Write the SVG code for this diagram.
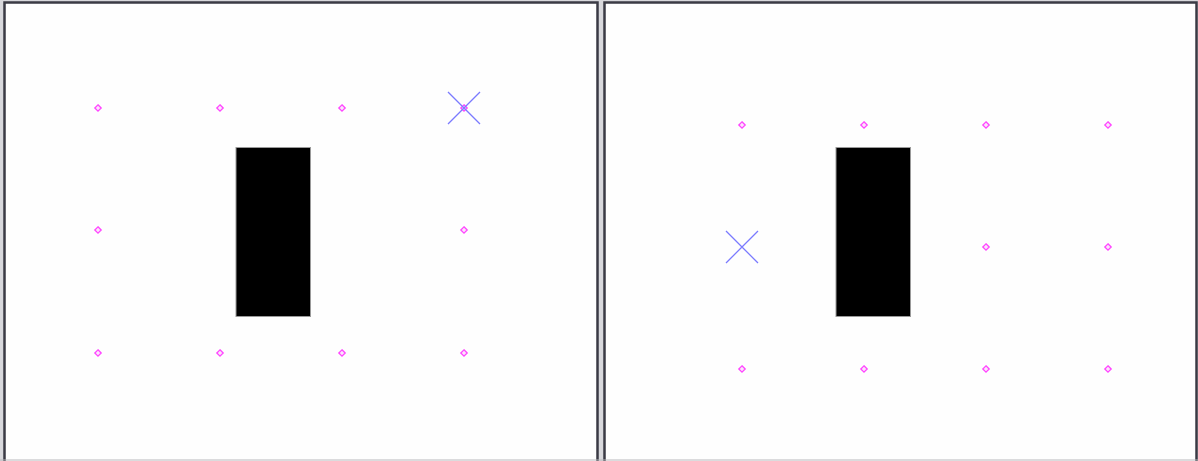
<svg xmlns="http://www.w3.org/2000/svg" width="1198" height="461" viewBox="0 0 1198 461">
<defs>
<style>
.panel{fill:#fefefe;stroke:#3a3a44;stroke-width:2.5}
.obs{fill:#000;stroke:#9a9a9a;stroke-width:1}
.pt{fill:#fbe6fb;stroke:#ff44ff;stroke-width:1.3}
.x{stroke:#7a7aff;stroke-width:1.3}
</style>
<symbol id="d" overflow="visible"><path class="pt" d="M0,-3.2 L3.2,0 L0,3.2 L-3.2,0 Z"/></symbol>
</defs>
<rect width="1198" height="461" fill="#d8d8dc"/>
<g id="left-panel">
<rect class="panel" x="4.5" y="2.5" width="593" height="461"/>
<rect id="obstacle-left" class="obs" x="236" y="147.5" width="74.5" height="169"/>
<g id="points-left">
<use href="#d" x="98" y="108"/><use href="#d" x="220" y="108"/><use href="#d" x="342" y="108"/><use href="#d" x="464" y="108"/>
<use href="#d" x="98" y="230"/><use href="#d" x="464" y="230"/>
<use href="#d" x="98" y="353"/><use href="#d" x="220" y="353"/><use href="#d" x="342" y="353"/><use href="#d" x="464" y="353"/>
</g>
<g id="marker-left"><path class="x" d="M448,92 L480,124 M480,92 L448,124"/></g>
</g>
<g id="right-panel">
<rect class="panel" x="604.5" y="2.5" width="592" height="461"/>
<rect id="obstacle-right" class="obs" x="836" y="147.5" width="74.5" height="169"/>
<g id="points-right">
<use href="#d" x="742" y="125"/><use href="#d" x="864" y="125"/><use href="#d" x="986" y="125"/><use href="#d" x="1108" y="125"/>
<use href="#d" x="986" y="247"/><use href="#d" x="1108" y="247"/>
<use href="#d" x="742" y="369"/><use href="#d" x="864" y="369"/><use href="#d" x="986" y="369"/><use href="#d" x="1108" y="369"/>
</g>
<g id="marker-right"><path class="x" d="M726,231 L758,263 M758,231 L726,263"/></g>
</g>
<line x1="0" y1="460" x2="1198" y2="460" stroke="#b8b8bc" stroke-width="1"/>
</svg>
